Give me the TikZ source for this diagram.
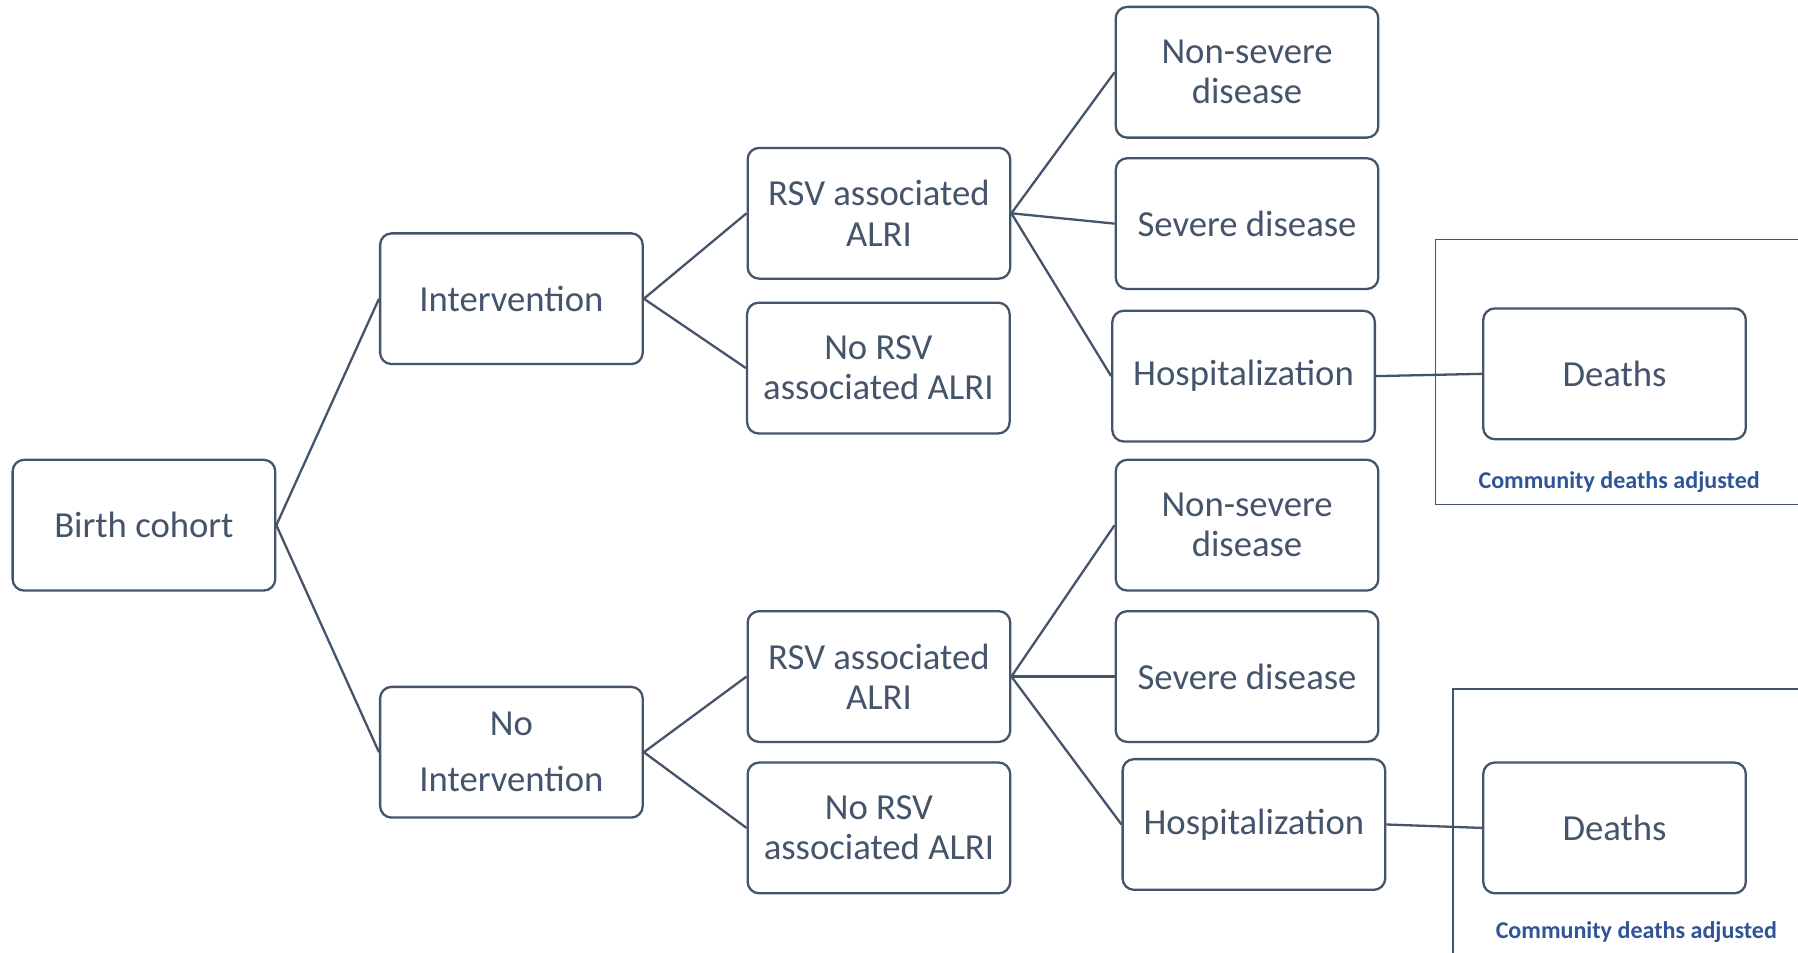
\documentclass[tikz,border=0pt]{standalone}
\usepackage{fontspec}
\setmainfont{Carlito}
\definecolor{slate}{HTML}{44546A}
\definecolor{cblue}{HTML}{2F5597}
\begin{document}
\begin{tikzpicture}[x=1pt,y=-1pt,
  box/.style={draw=slate,line width=2pt,rounded corners=10pt,minimum width=229pt,minimum height=114pt,
    align=center,text=slate,font=\fontsize{32}{35}\selectfont,inner sep=0pt},
  link/.style={draw=slate,line width=2pt},
  frame/.style={draw=slate,line width=1.3pt},
  note/.style={text=cblue,font=\fontsize{21}{24}\selectfont\bfseries,inner sep=0pt}]
\useasboundingbox (0,0) rectangle (1568,831);
% frames
\draw[frame] (1568,209) -- (1252,209) -- (1252,440) -- (1568,440);
\draw[frame] (1568,601) -- (1267,601) -- (1267,831);
% nodes
\node[box] (bc) at (125.5,458) {Birth cohort};
\node[box] (int) at (446,260.5) {Intervention};
\node[box] (noint) at (446,656) {No\\[14pt]Intervention};
\node[box] (rsv1) at (766.5,186) {RSV associated\\ALRI};
\node[box] (norsv1) at (766,321) {No RSV\\associated ALRI};
\node[box] (rsv2) at (766.5,590) {RSV associated\\ALRI};
\node[box] (norsv2) at (766.5,722) {No RSV\\associated ALRI};
\node[box] (ns1) at (1087.5,63) {Non-severe\\disease};
\node[box] (sev1) at (1087.5,195) {Severe disease};
\node[box] (hosp1) at (1084.5,328) {Hospitalization};
\node[box] (dth1) at (1408,326) {Deaths};
\node[box] (ns2) at (1087.5,458) {Non-severe\\disease};
\node[box] (sev2) at (1087.5,590) {Severe disease};
\node[box] (hosp2) at (1093.5,719) {Hospitalization};
\node[box] (dth2) at (1408,722) {Deaths};
\node[note] (cd1) at (1412,420) {Community deaths adjusted};
\node[note] (cd2) at (1427,813) {Community deaths adjusted};
% connectors
\draw[link] (int.west) -- (bc.east) -- (noint.west);
\draw[link] (rsv1.west) -- (int.east) -- (norsv1.west);
\draw[link] (rsv2.west) -- (noint.east) -- (norsv2.west);
\draw[link] (ns1.west) -- (rsv1.east) -- (hosp1.west);
\draw[link] (rsv1.east) -- (sev1.west);
\draw[link] (ns2.west) -- (rsv2.east) -- (hosp2.west);
\draw[link] (rsv2.east) -- (sev2.west);
\draw[link] (hosp1.east) -- (dth1.west);
\draw[link] (hosp2.east) -- (dth2.west);
\end{tikzpicture}
\end{document}
